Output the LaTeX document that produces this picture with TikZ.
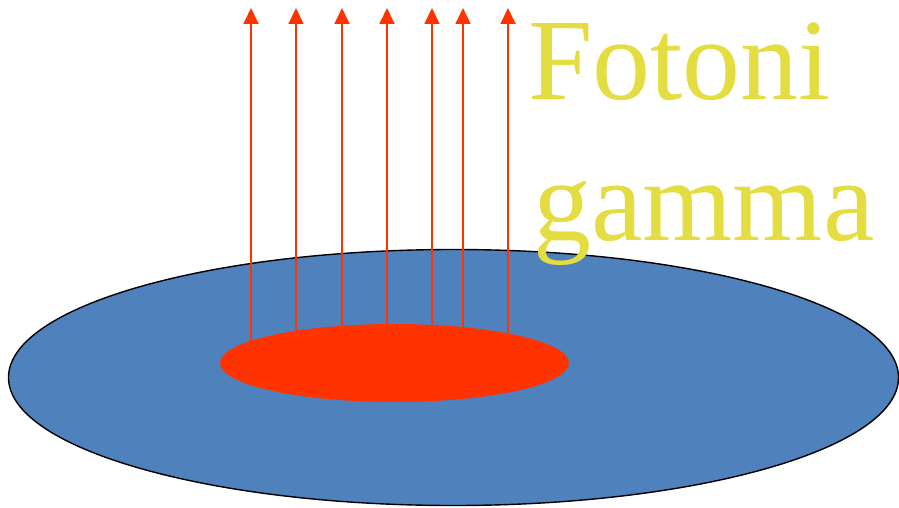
\documentclass[tikz,border=0pt]{standalone}
\usepackage{fontspec}
\setmainfont{Liberation Serif}
\usetikzlibrary{arrows.meta,shapes.geometric}
\definecolor{diskblue}{RGB}{79,129,189}
\definecolor{hotred}{RGB}{255,51,0}
\definecolor{labelyellow}{RGB}{227,221,66}
\tikzset{
  disk/.style={ellipse, draw=black, line width=1.4pt, fill=diskblue, inner sep=0pt},
  hotspot/.style={ellipse, fill=hotred, inner sep=0pt},
  photon/.style={draw=hotred, line width=1.8pt, -{Triangle[length=16pt,width=15pt]}},
  lbl/.style={text=labelyellow, font=\fontsize{116}{140}\selectfont, inner sep=0pt, anchor=base west}
}
\begin{document}
\begin{tikzpicture}[x=1pt,y=-1pt]
\useasboundingbox (0,0) rectangle (899,508);
\node[disk, minimum width=890pt, minimum height=256pt] (disk) at (453.5,377.5) {};
\foreach \i/\x in {1/251,2/296,3/342,4/387,5/432,6/463,7/508}{
  \coordinate (b\i) at (\x,363);
  \coordinate (t\i) at (\x,8);
  \draw[photon] (b\i) -- (t\i);
}
\node[hotspot, minimum width=349pt, minimum height=78pt] (spot) at (394.5,363) {};
\node[lbl] (l1) at (528,100) {Fotoni};
\node[lbl] (l2) at (533,240) {gamma};
\end{tikzpicture}
\end{document}
